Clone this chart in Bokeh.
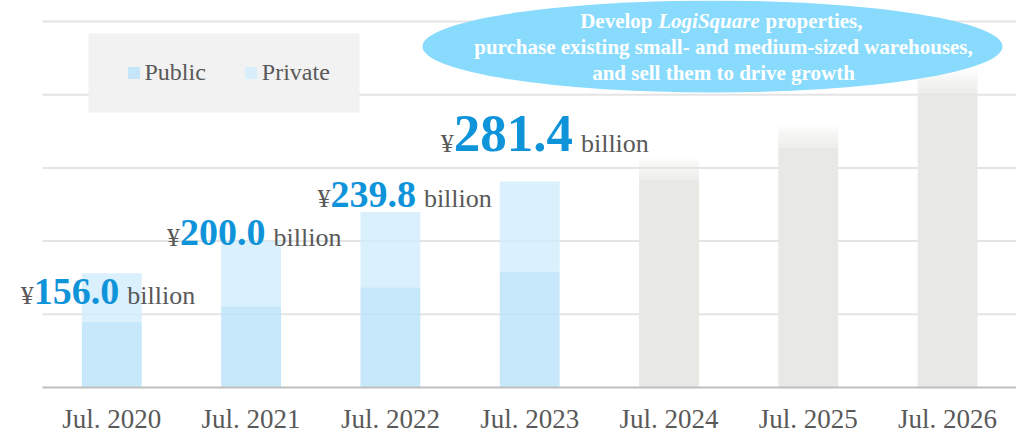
from bokeh.plotting import figure
from bokeh.models import Range1d, FixedTicker, Legend, LegendItem
from bokeh.core.properties import value
from bokeh.embed import file_html
from bokeh.resources import INLINE

# ---------------- data ----------------
periods = ["Jul. 2020", "Jul. 2021", "Jul. 2022", "Jul. 2023",
           "Jul. 2024", "Jul. 2025", "Jul. 2026"]
actual_total = [156.0, 200.0, 239.8, 281.4]          # ¥ billion
actual_public = [90.0, 111.0, 137.0, 158.0]          # ¥ billion (public part)
forecast_total = [314.0, 358.0, 433.0]               # illustrative future bars
label_numbers = ["156.0", "200.0", "239.8", "281.4"]
legend_labels = ["Public", "Private"]
grid_values = [100, 200, 300, 400, 500]
callout_line1 = ["Develop", "LogiSquare", "properties,"]
callout_line2 = "purchase existing small- and medium-sized warehouses,"
callout_line3 = "and sell them to drive growth"

# ---------------- layout / style constants ----------------
W, H = 1016, 436
AXIS_Y = 387                       # pixel row of the baseline
FRAME_B = H - AXIS_Y
PX_PER_UNIT = 0.732
Y_END = AXIS_Y / PX_PER_UNIT
PX_PER_CAT = 139.3
FIRST_CENTER = 111.3
X_START = -FIRST_CENTER / PX_PER_CAT
X_END = X_START + W / PX_PER_CAT
BAR_W = 0.43
FONT = "Liberation Serif"
GRAY_TXT = "#595959"
BLUE_TXT = "#0f94da"
PUB_COL = "#b9e2fa"
PRI_COL = "#d2ecfc"
BAR_ALPHA = 0.8
FUT_COL = "#e8e8e4"
FADE_PX = 22
BASE_FIX = 0.35                    # baseline correction (em)


def px_x(page_x):
    return X_START + page_x / PX_PER_CAT


def px_y(page_y):
    return (AXIS_Y - page_y) / PX_PER_UNIT


p = figure(width=W, height=H, output_backend="svg", toolbar_location=None,
           x_range=Range1d(X_START, X_END), y_range=Range1d(0, Y_END),
           min_border_left=0, min_border_right=0, min_border_top=0,
           min_border_bottom=FRAME_B)
p.outline_line_color = None
p.background_fill_color = "white"
p.border_fill_color = "white"

# grid (drawn as segments so it starts where the axis starts)
p.xgrid.visible = False
p.ygrid.visible = False
p.segment(x0=[px_x(42)] * len(grid_values), x1=[X_END] * len(grid_values),
          y0=grid_values, y1=grid_values, line_color="#e4e4e4", line_width=2)

p.yaxis.visible = False
p.xaxis.bounds = (px_x(42), X_END)
p.xaxis.ticker = FixedTicker(ticks=list(range(len(periods))))
p.xaxis.major_label_overrides = {i: s for i, s in enumerate(periods)}
p.xaxis.axis_line_color = "#bfbfbf"
p.xaxis.axis_line_width = 2
p.xaxis.major_tick_line_color = None
p.xaxis.minor_tick_line_color = None
p.xaxis.major_tick_out = 0
p.xaxis.major_tick_in = 0
p.xaxis.major_label_standoff = 16
p.xaxis.major_label_text_font = FONT
p.xaxis.major_label_text_font_size = "27px"
p.xaxis.major_label_text_color = GRAY_TXT

# actual bars
xa = list(range(len(actual_total)))
r_pub = p.vbar(x=xa, width=BAR_W, bottom=0, top=actual_public,
               fill_color=PUB_COL, fill_alpha=BAR_ALPHA, line_color=None)
r_pri = p.vbar(x=xa, width=BAR_W, bottom=actual_public, top=actual_total,
               fill_color=PRI_COL, fill_alpha=BAR_ALPHA, line_color=None)

# forecast bars: solid body plus a pixel-snapped fade towards white at the top
xf = list(range(len(actual_total), len(periods)))
top_px = [round(AXIS_Y - t * PX_PER_UNIT) for t in forecast_total]
p.vbar(x=xf, width=BAR_W, bottom=0, top=[px_y(tp + FADE_PX) for tp in top_px],
       fill_color=FUT_COL, line_color=None)
for j in range(FADE_PX):
    p.vbar(x=xf, width=BAR_W,
           bottom=[px_y(tp + j + 1) for tp in top_px],
           top=[px_y(tp + j) for tp in top_px],
           fill_color=FUT_COL, fill_alpha=((j + 0.5) / FADE_PX) ** 0.9,
           line_color=None)

# legend box + legend
p.quad(left=[px_x(88)], right=[px_x(359)], top=[px_y(33)], bottom=[px_y(112)],
       fill_color="#f2f2f2", line_color=None)
legend = Legend(items=[LegendItem(label=legend_labels[0], renderers=[r_pub]),
                       LegendItem(label=legend_labels[1], renderers=[r_pri])],
                location=(125.5, 301), orientation="horizontal",
                padding=0, margin=0, spacing=37, label_standoff=4,
                glyph_width=15, glyph_height=15,
                background_fill_alpha=0, border_line_color=None,
                label_text_font=FONT, label_text_font_size="24px",
                label_text_color=GRAY_TXT)
p.add_layout(legend)


def put_text(x, page_base, txt, size, align="left", style="normal", color=GRAY_TXT):
    p.text(x=[x], y=[px_y(page_base - BASE_FIX * size)], text=[txt], text_align=align,
           text_baseline="alphabetic", text_font=value(FONT), text_font_style=style,
           text_font_size=value(f"{size}px"), text_color=color)


# value labels
num_dx = [-78, -71, -60, -76]          # px offset of number's left edge from bar centre
base_dy = [31, 5, -4, -29]             # px offset of baseline below bar top
num_size = [38, 38, 38, 53]
for i, tot in enumerate(actual_total):
    xn = i + num_dx[i] / PX_PER_CAT
    base = AXIS_Y - tot * PX_PER_UNIT + base_dy[i]
    nw = 2.25 * num_size[i]
    put_text(xn, base, "¥", 26, align="right")
    put_text(xn, base, label_numbers[i], num_size[i], style="bold", color=BLUE_TXT)
    put_text(xn + (nw + 8) / PX_PER_CAT, base, "billion", 26)

# callout ellipse
p.ellipse(x=[px_x(712)], y=[px_y(46)], width=580, height=92,
          width_units="screen", height_units="screen",
          fill_color="#89dbfd", line_color=None)
put_text(px_x(652), 28, callout_line1[0], 21, align="right", style="bold", color="white")
put_text(px_x(708.5), 28, callout_line1[1], 21, align="center", style="bold italic", color="white")
put_text(px_x(765), 28, callout_line1[2], 21, align="left", style="bold", color="white")
put_text(px_x(723), 54, callout_line2, 21, align="center", style="bold", color="white")
put_text(px_x(723), 80, callout_line3, 21, align="center", style="bold", color="white")

open("out.html", "w").write(file_html(p, INLINE))
